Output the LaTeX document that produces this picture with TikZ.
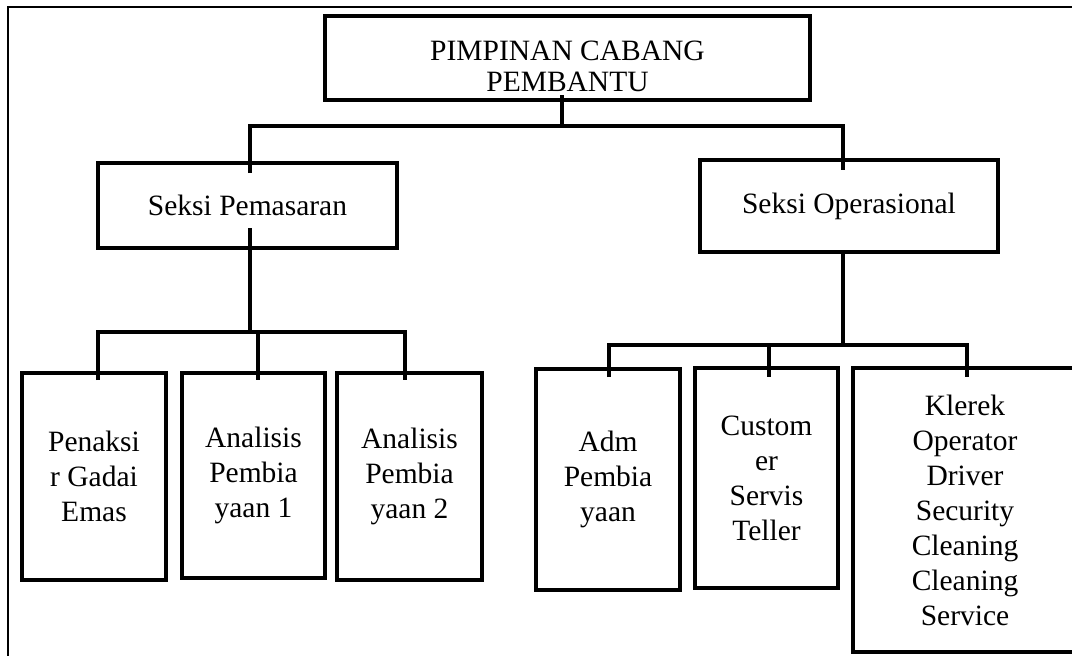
\documentclass[tikz,border=0pt]{standalone}
\usepackage{fontspec}
\setmainfont{Liberation Serif}
\newcommand\chartfont{\fontsize{29.5}{35}\selectfont}
\newcommand\topfont{\fontsize{29.5}{31}\selectfont}
\begin{document}
\begin{tikzpicture}[x=1pt,y=-1pt,
  orgbox/.style={draw, line width=3.6pt, inner sep=0pt, align=center, font=\chartfont},
  conn/.style={line width=3.6pt},
  frame/.style={line width=1.3pt}]
\useasboundingbox (0,0) rectangle (1072,656);
% frame
\draw[frame] (8,656) -- (8,7) -- (1072,7);
% boxes
\node[orgbox, minimum width=485pt, minimum height=84pt] (pim) at (567.5,58) {};
\node[align=center, font=\topfont, inner sep=0pt] (pimtxt) at (567.5,66) {PIMPINAN CABANG\\PEMBANTU};
\node[orgbox, minimum width=299pt, minimum height=85pt] (pem) at (247.5,205.5) {Seksi Pemasaran};
\node[orgbox, minimum width=298pt, minimum height=92pt] (ops) at (849,206) {Seksi Operasional};
\node[orgbox, minimum width=144pt, minimum height=207pt] (pen) at (94,476.5) {Penaksi\\r Gadai\\Emas};
\node[orgbox, minimum width=143pt, minimum height=205pt] (an1) at (253.5,475.5) {Analisis\\Pembia\\yaan 1};
\node[orgbox, minimum width=145pt, minimum height=207pt] (an2) at (409.5,476.5) {Analisis\\Pembia\\yaan 2};
\node[orgbox, minimum width=144pt, minimum height=221pt] (adm) at (608,479.5) {Adm\\Pembia\\yaan};
\node[orgbox, minimum width=143pt, minimum height=220pt] (cus) at (766.5,478) {Custom\\er\\Servis\\Teller};
\node[orgbox, minimum width=224pt, minimum height=284pt] (kle) at (965,510) {Klerek\\Operator\\Driver\\Security\\Cleaning\\Cleaning\\Service};
% junctions
\coordinate (jtop) at (562,126);
\coordinate (jpem) at (250,332);
\coordinate (jops) at (843,345);
% top level
\draw[conn] (jtop |- 0,95) -- (jtop);
\draw[conn] (250,173) -- (250,126) -- (843,126) -- (843,170);
% Seksi Pemasaran
\draw[conn] (jpem |- 0,228) -- (jpem);
\draw[conn] (98,380) -- (98,332) -- (405,332) -- (405,380);
\draw[conn] (258,332) -- (258,380);
% Seksi Operasional
\draw[conn] (ops.south -| jops) -- (jops);
\draw[conn] (609,377) -- (609,345) -- (967,345) -- (967,377);
\draw[conn] (769,345) -- (769,377);
\end{tikzpicture}
\end{document}
